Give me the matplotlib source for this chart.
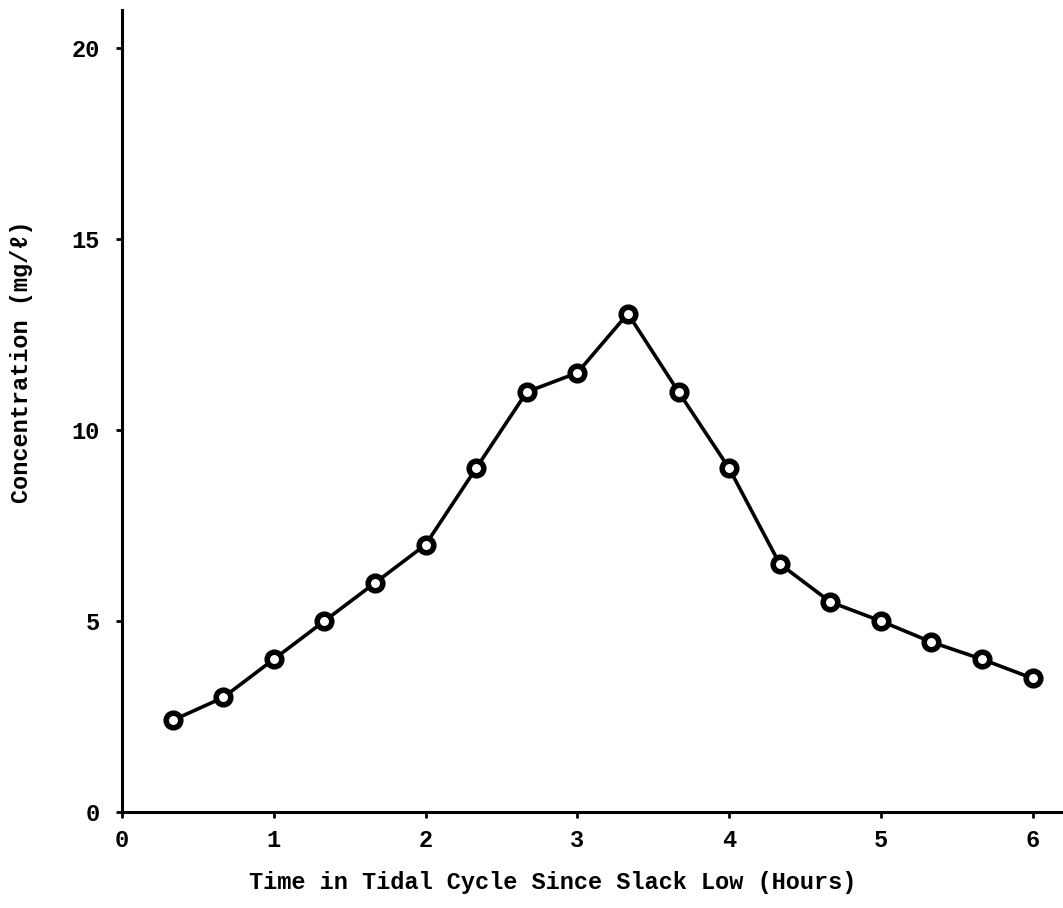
import matplotlib
matplotlib.use("Agg")
import matplotlib.pyplot as plt

# hours since slack low
hours = [0.333, 0.667, 1.0, 1.333, 1.667, 2.0, 2.333, 2.667, 3.0,
         3.333, 3.667, 4.0, 4.333, 4.667, 5.0, 5.333, 5.667, 6.0]
# concentration, mg/l
conc = [2.4, 3.0, 4.0, 5.0, 6.0, 7.0, 9.0, 11.0, 11.5,
        13.05, 11.0, 9.0, 6.5, 5.5, 5.0, 4.45, 4.0, 3.5]

xticks = [0, 1, 2, 3, 4, 5, 6]
yticks = [0, 5, 10, 15, 20]

label_font = ['Liberation Mono', 'DejaVu Sans Mono']

fig = plt.figure(figsize=(10.63, 9.08), dpi=100)
ax = fig.add_axes([0.1148, 0.1057, 0.8852, 0.8833])

ax.plot(hours, conc, color='black', lw=2.6, marker='o', ms=10.5,
        mfc='white', mec='black', mew=4, zorder=3)

ax.set_xlim(0, 6.2)
ax.set_ylim(0, 21.0)
ax.set_xticks(xticks)
ax.set_yticks(yticks)
ax.tick_params(length=4, width=2, pad=8)
ax.tick_params(axis='y', pad=12)
for t in ax.get_xticklabels() + ax.get_yticklabels():
    t.set_family(label_font)
    t.set_fontsize(17)
    t.set_fontweight('bold')

ax.spines['top'].set_visible(False)
ax.spines['right'].set_visible(False)
ax.spines['left'].set_linewidth(2.2)
ax.spines['bottom'].set_linewidth(2.2)

ax.set_xlabel('Time in Tidal Cycle Since Slack Low (Hours)', family=label_font,
              fontsize=17, fontweight='bold')
ax.xaxis.set_label_coords(0.458, -0.073)
ax.set_ylabel('Concentration (mg/ℓ)', family=label_font,
              fontsize=17, fontweight='bold')
ax.yaxis.set_label_coords(-0.095, 0.561)

fig.savefig('out.png', dpi=100)
